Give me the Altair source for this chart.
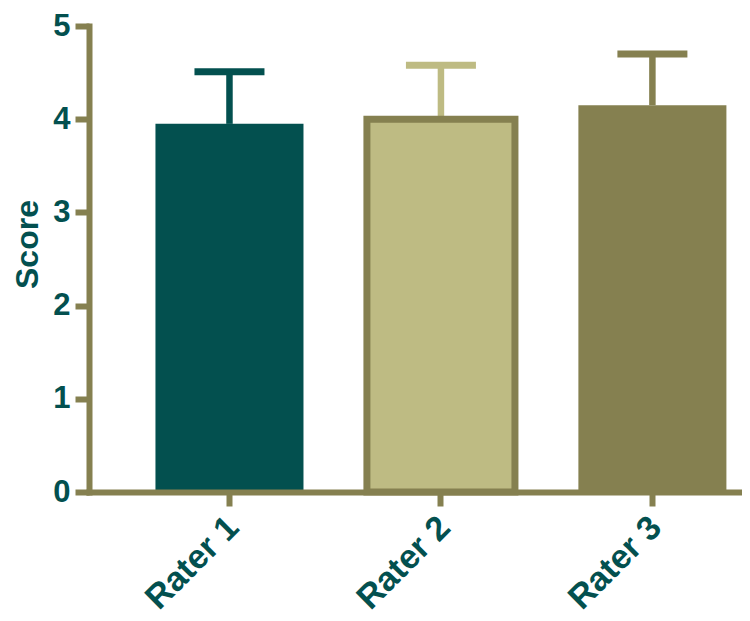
import altair as alt
import pandas as pd

raters = ["Rater 1", "Rater 2", "Rater 3"]
means = [3.95, 4.00, 4.15]
sds = [0.56, 0.58, 0.55]
fills = ["#03504F", "#BEBB83", "#858050"]
strokes = ["#03504F", "#858050", "#858050"]
stroke_widths = [0, 7, 0]
err_colors = ["#03504F", "#BEBB83", "#858050"]
y_ticks = [0, 1, 2, 3, 4, 5]

TEAL = "#03504F"
OLIVE = "#858050"
FONT = "Liberation Sans"

df = pd.DataFrame({
    "rater": raters,
    "mean": means,
    "upper": [m + s for m, s in zip(means, sds)],
    "fill": fills,
    "stroke": strokes,
    "sw": stroke_widths,
    "errc": err_colors,
})

x_enc = alt.X(
    "rater:N",
    scale=alt.Scale(domain=raters, paddingInner=0.3, paddingOuter=0.194, align=0.81),
    axis=alt.Axis(
        title=None, labelAngle=-45, labelFont=FONT, labelFontSize=34,
        labelFontWeight="bold", labelColor=TEAL, labelPadding=4, labelOffset=-8,
        domainColor=OLIVE, domainWidth=6, domainCap="square",
        tickColor=OLIVE, tickWidth=6, tickSize=14, zindex=1,
    ),
)
y_scale = alt.Scale(domain=[0, 5], nice=False, zero=True)
y_axis = alt.Axis(
    values=y_ticks, grid=False, format="d",
    labelFont=FONT, labelFontSize=31, labelFontWeight="bold", labelColor=TEAL,
    labelPadding=5, domainColor=OLIVE, domainWidth=6, domainCap="square",
    tickColor=OLIVE, tickWidth=6, tickSize=14, zindex=1,
    title="Score", titleFont=FONT, titleFontSize=32, titleFontWeight="bold",
    titleColor=TEAL, titleX=-52, titleY=218, titleBaseline="alphabetic",
)

base = alt.Chart(df)

rules = base.mark_rule(strokeWidth=6.5).encode(
    x=x_enc,
    y=alt.Y("mean:Q", scale=y_scale, axis=y_axis),
    y2="upper:Q",
    color=alt.Color("errc:N", scale=None),
)
caps = base.mark_tick(thickness=7, size=70, opacity=1).encode(
    x=x_enc,
    y=alt.Y("upper:Q", scale=y_scale, axis=y_axis),
    color=alt.Color("errc:N", scale=None),
)
bars = base.mark_bar().encode(
    x=x_enc,
    y=alt.Y("mean:Q", scale=y_scale, axis=y_axis),
    fill=alt.Fill("fill:N", scale=None),
    stroke=alt.Stroke("stroke:N", scale=None),
    strokeWidth=alt.StrokeWidth("sw:Q", scale=None),
)

chart = alt.layer(rules, caps, bars).properties(
    width=653, height=466,
    autosize=alt.AutoSizeParams(type="none"),
    padding={"left": 81, "top": 18, "right": 0, "bottom": 127},
).configure_view(stroke=None)

chart.save("out.html", embed_options={"renderer": "svg", "actions": False})
